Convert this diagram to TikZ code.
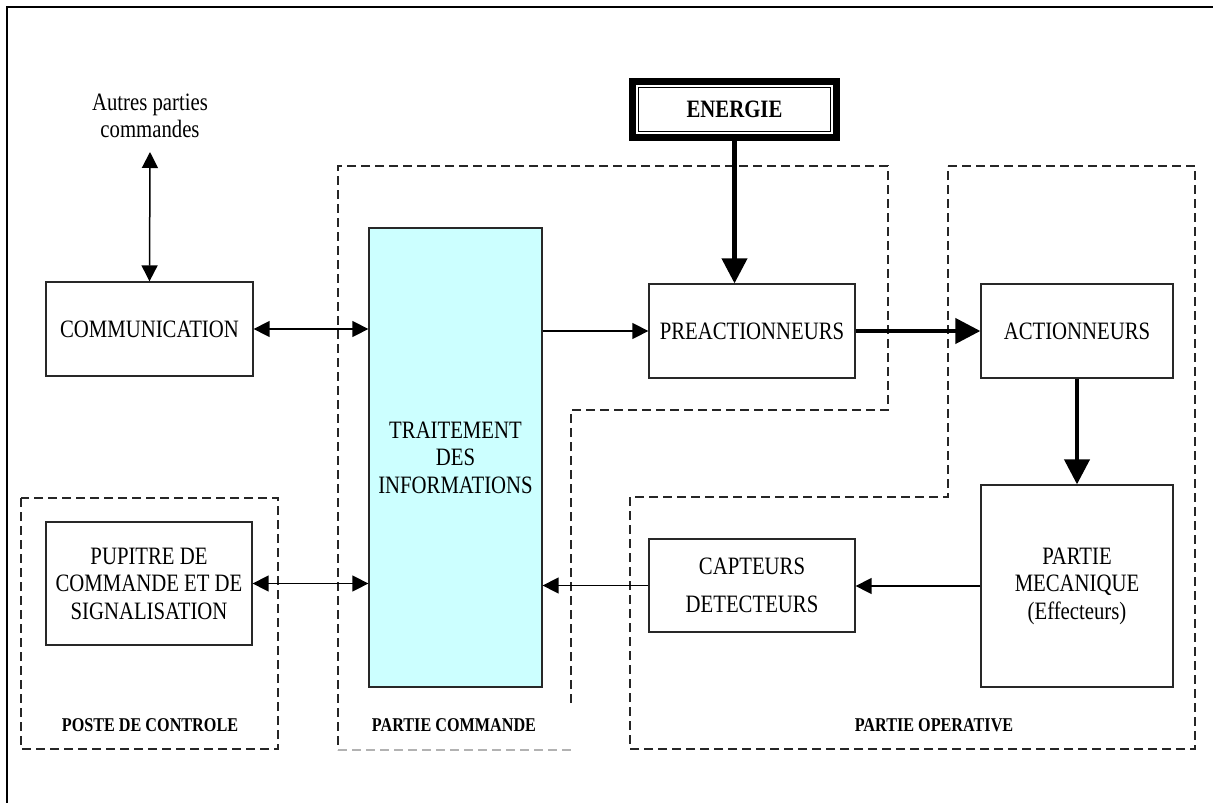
\documentclass[tikz,border=0pt]{standalone}
\usepackage{fontspec}
\setmainfont{Liberation Serif}[FakeStretch=0.83]
\usetikzlibrary{arrows.meta}
\definecolor{cyanfill}{RGB}{204,255,255}
\definecolor{boxline}{RGB}{40,40,40}
\tikzset{
  blk/.style={draw=boxline, line width=1.3pt, inner sep=0pt, align=center,
    font=\fontsize{25}{27.5}\selectfont},
  lbl/.style={inner sep=0pt, align=center, font=\fontsize{25}{27}\selectfont},
  zone/.style={draw=black!85, line width=1.3pt, dash pattern=on 9pt off 5pt},
  zonelbl/.style={inner sep=0pt, font=\fontsize{19.5}{22}\selectfont\bfseries},
  thin/.style={line width=1.5pt, -{Triangle[length=16pt,width=16pt]}},
  dbl/.style={line width=1.5pt, {Triangle[length=16pt,width=16pt]}-{Triangle[length=16pt,width=16pt]}},
  thick/.style={line width=4.2pt, -{Triangle[length=25pt,width=25pt]}},
}
\begin{document}
\begin{tikzpicture}[x=1pt,y=-1pt]
\useasboundingbox (0,0) rectangle (1213,803);
% outer frame (cropped at right and bottom)
\draw[line width=2pt] (7,803) -- (7,7) -- (1213,7);

% dashed zones
\draw[zone] (21,498) rectangle (278,749);
\draw[zone] (571,703) -- (571,410) -- (888,410) -- (888,166) -- (338,166) -- (338,750);
\draw[zone, draw=black!30] (338,750) -- (571,750);
\draw[zone] (948,166) -- (1195,166) -- (1195,749) -- (630,749) -- (630,497) -- (948,497) -- cycle;

% zone labels
\node[zonelbl] (lposte) at (150,725) {POSTE DE CONTROLE};
\node[zonelbl] (lcmd) at (454,725) {PARTIE COMMANDE};
\node[zonelbl] (lop) at (934,725) {PARTIE OPERATIVE};

% blocks
\node[blk, minimum width=207pt, minimum height=94pt] (comm) at (149.5,329) {COMMUNICATION};
\node[blk, fill=cyanfill, minimum width=173pt, minimum height=459pt] (trait) at (455.5,457.5)
  {TRAITEMENT\\DES\\INFORMATIONS};
\node[blk, minimum width=206pt, minimum height=94pt] (preact) at (752,331) {PREACTIONNEURS};
\node[blk, minimum width=192pt, minimum height=94pt] (act) at (1077,331) {ACTIONNEURS};
\node[blk, minimum width=192pt, minimum height=202pt] (meca) at (1077,586)
  {PARTIE\\MECANIQUE\\(Effecteurs)};
\node[blk, minimum width=206pt, minimum height=93pt, font=\fontsize{25}{38}\selectfont] (capt) at (752,585.5)
  {CAPTEURS\\DETECTEURS};
\node[blk, minimum width=206pt, minimum height=123pt] (pup) at (149,583.5)
  {PUPITRE DE\\COMMANDE ET DE\\SIGNALISATION};

% ENERGIE double-framed box
\node[draw=black, line width=7pt, minimum width=204pt, minimum height=56pt, inner sep=0pt] (energie) at (734.5,109.5) {};
\node[draw=white, line width=1.6pt, minimum width=195pt, minimum height=47pt, inner sep=0pt] (energiew) at (energie.center) {};
\node[draw=black, line width=1.3pt, minimum width=192pt, minimum height=44pt, inner sep=0pt,
  font=\fontsize{25}{27}\selectfont\bfseries] (energiet) at (energie.center) {ENERGIE};

% other commands label
\node[lbl, anchor=south, inner ysep=14pt] (autres) at (150,152) {Autres parties\\commandes};

% connectors
\draw[dbl] (autres.south) -- (comm.north);
\draw[dbl] (comm.east) -- (comm.east -| trait.west);
\draw[dbl] (pup.east) -- (pup.east -| trait.west);
\draw[thin] (trait.east |- preact.west) -- (preact.west);
\draw[thin] (capt.west) -- (capt.west -| trait.east);
\draw[thin] (meca.west) -- (meca.west -| capt.east);
\draw[thick] (energie.south) -- (energie.south |- preact.north);
\draw[thick] (preact.east) -- (act.west);
\draw[thick] (act.south) -- (meca.north);
\end{tikzpicture}
\end{document}
